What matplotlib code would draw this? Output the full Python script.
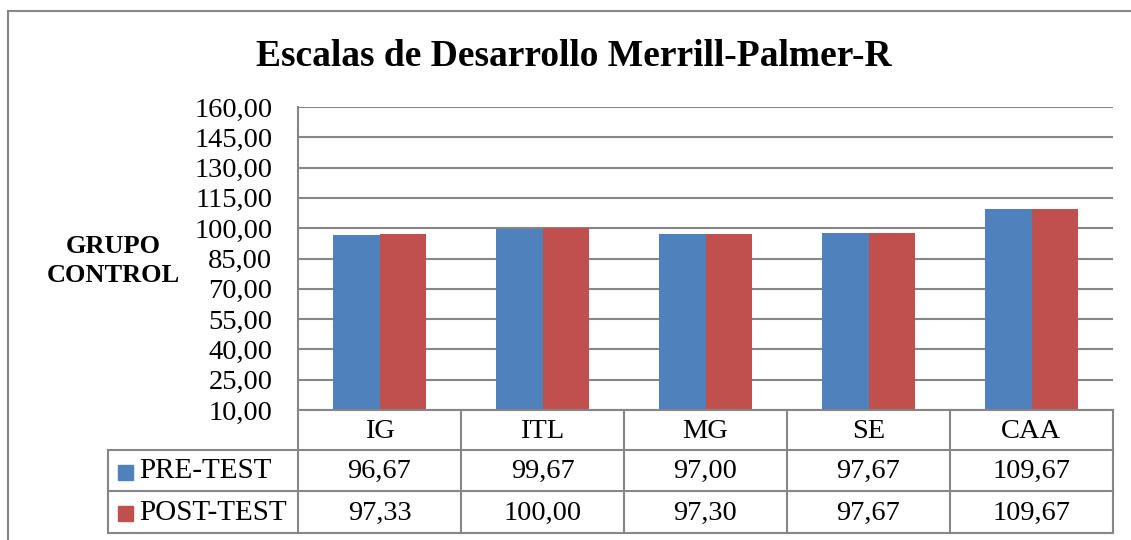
import matplotlib
matplotlib.use("Agg")
import matplotlib.pyplot as plt
from matplotlib.lines import Line2D
from matplotlib.patches import Rectangle
import numpy as np

categories = ["IG", "ITL", "MG", "SE", "CAA"]
series_names = ["PRE-TEST", "POST-TEST"]
pre_test = [96.67, 99.67, 97.00, 97.67, 109.67]
post_test = [97.33, 100.00, 97.30, 97.67, 109.67]
y_ticks = [10, 25, 40, 55, 70, 85, 100, 115, 130, 145, 160]
title = "Escalas de Desarrollo Merrill-Palmer-R"
ylabel = "GRUPO\nCONTROL"

colors = ["#4F81BD", "#C0504D"]
grid_c = "#868686"
serif = ["Liberation Serif", "DejaVu Serif"]

def fmt(v):
    return f"{v:.2f}".replace(".", ",")

W, H = 1131, 540
fig = plt.figure(figsize=(W / 100, H / 100), dpi=100)
fig.patch.set_facecolor("white")

# outer frame (left + top)
fig.add_artist(Line2D([8 / W, 8 / W], [0, 1 - 11 / H], transform=fig.transFigure, color=grid_c, lw=1.5))
fig.add_artist(Line2D([8 / W, 1], [1 - 11 / H, 1 - 11 / H], transform=fig.transFigure, color=grid_c, lw=1.5))

L, R, T, B = 298, 1113, 107, 410
ax = fig.add_axes([L / W, 1 - B / H, (R - L) / W, (B - T) / H])
x = np.arange(len(categories))
bw = 0.285
ax.bar(x - bw / 2, pre_test, bw, color=colors[0], zorder=3)
ax.bar(x + bw / 2, post_test, bw, color=colors[1], zorder=3)
ax.set_xlim(-0.5, len(categories) - 0.5)
ax.set_ylim(y_ticks[0], y_ticks[-1])
ax.set_yticks(y_ticks)
ax.set_yticklabels([fmt(v) for v in y_ticks], fontfamily=serif, fontsize=20.5)
ax.tick_params(axis="y", length=0, pad=18.5)
ax.set_xticks([])
ax.yaxis.grid(True, color=grid_c, lw=1.5, zorder=0)
for s in ["top", "right", "bottom"]:
    ax.spines[s].set_visible(False)
ax.spines["left"].set_color(grid_c)
ax.spines["left"].set_linewidth(1.5)

fig.text(574 / W, 1 - 57 / H, title, ha="center", va="center", fontfamily=serif,
         fontsize=27, fontweight="bold")
fig.text(113 / W, 1 - 261 / H, ylabel, ha="center", va="center", fontfamily=serif,
         fontsize=19, fontweight="bold", linespacing=1.3)

def fy(py):
    return 1 - py / H
def fx(px):
    return px / W

rows_y = [410, 450, 491, 533]
n = len(categories)
col_w = (R - L) / n
col_x = [L + i * col_w for i in range(n + 1)]
leg_left = 108
lc = dict(transform=fig.transFigure, color=grid_c, lw=1.5)
fig.add_artist(Line2D([fx(L), fx(R)], [fy(rows_y[0])] * 2, **lc))
for yy in rows_y[1:]:
    fig.add_artist(Line2D([fx(leg_left), fx(R)], [fy(yy)] * 2, **lc))
for cx in col_x:
    fig.add_artist(Line2D([fx(cx)] * 2, [fy(rows_y[0]), fy(rows_y[-1])], **lc))
fig.add_artist(Line2D([fx(leg_left)] * 2, [fy(rows_y[1]), fy(rows_y[-1])], **lc))

for i, c in enumerate(categories):
    cx = (col_x[i] + col_x[i + 1]) / 2
    fig.text(fx(cx), fy((rows_y[0] + rows_y[1]) / 2 + 1), c, ha="center", va="center",
             fontfamily=serif, fontsize=20.5)
for r, (name, vals) in enumerate(zip(series_names, [pre_test, post_test])):
    yc = (rows_y[r + 1] + rows_y[r + 2]) / 2 + 1
    for i, v in enumerate(vals):
        cx = (col_x[i] + col_x[i + 1]) / 2
        fig.text(fx(cx), fy(yc), fmt(v), ha="center", va="center", fontfamily=serif, fontsize=20.5)
    fig.add_artist(Rectangle((fx(118), fy(yc + 8)), 15 / W, 15 / H, transform=fig.transFigure,
                             color=colors[r]))
    fig.text(fx(139), fy(yc), name, ha="left", va="center", fontfamily=serif, fontsize=21)

fig.savefig("out.png", dpi=100, facecolor="white")
